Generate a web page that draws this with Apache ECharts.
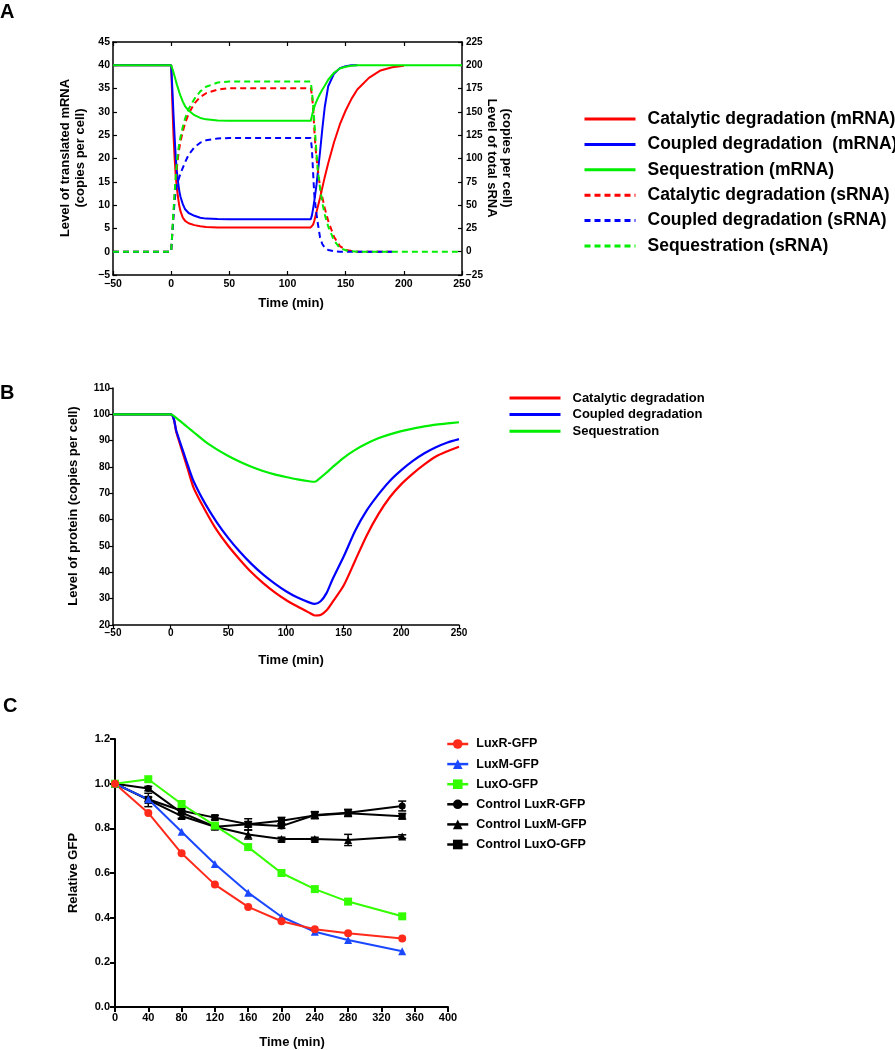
<!DOCTYPE html>
<html>
<head>
<meta charset="utf-8">
<script src="https://cdn.jsdelivr.net/npm/echarts@6/dist/echarts.min.js"></script>
<style>
html,body{margin:0;padding:0;background:#fff;}
#chart{width:895px;height:1050px;}
</style>
</head>
<body>
<div id="chart"></div>
<script>
// ---------- Panel A data ----------
const tA = [-50, 0, 1, 2, 3, 4, 5, 6, 7, 8, 10, 12, 15, 20, 25, 30, 40, 50, 120, 121, 122, 123, 124, 125, 126, 128, 130, 132, 135, 140, 145, 150, 155, 160, 170, 180, 190, 200, 250];
const catMRNA = [40, 40, 32, 25, 20, 16, 13.5, 11.5, 9.8, 8.7, 7.3, 6.6, 6.1, 5.7, 5.45, 5.3, 5.2, 5.2, 5.2, 5.4, 5.8, 6.6, 7.6, 8.6, 9.6, 11.6, 13.8, 16, 19, 23.5, 27.3, 30.3, 32.8, 34.8, 37.3, 38.9, 39.6, 39.9, null];
const coupMRNA = [40, 40, 35, 29.5, 24.5, 20, 17, 14.8, 13, 11.8, 10.2, 9.1, 8.3, 7.7, 7.3, 7.1, 7.0, 6.95, 6.95, 7.8, 9.2, 10.8, 12.6, 14.5, 16.8, 21.5, 26.5, 31, 35.5, 38.2, 39.4, 39.8, 40, 40, null, null, null, null, null];
const seqMRNA = [40, 40, 39.3, 38.5, 37.6, 36.7, 35.8, 35, 34.2, 33.5, 32.2, 31.2, 30.3, 29.3, 28.7, 28.4, 28.15, 28.1, 28.1, 29.2, 30.2, 31, 31.7, 32.3, 32.9, 33.9, 34.8, 35.6, 36.9, 38.4, 39.3, 39.7, 39.9, 40, 40, 40, 40, 40, 40];
const catSRNA = [0, 0, 20, 40, 60, 77, 91, 102, 111, 118, 129, 138, 148, 159, 166, 170, 174, 175.5, 175.5, 168, 155, 132, 113, 100, 89, 69, 58, 47, 33, 16, 6, 2, 0.7, 0, 0, 0, 0, null, null];
const coupSRNA = [0, 0, 20, 38, 55, 66, 72, 76, 80, 84, 90, 96, 104, 112, 117, 119.5, 121.5, 122, 122, 110, 85, 62, 50, 40, 31, 15, 8, 4.5, 1.8, 0.4, 0, 0, 0, 0, 0, 0, 0, null, null];
const seqSRNA = [0, 0, 22, 44, 64, 82, 97, 108, 116, 123, 134, 143, 153, 164, 172, 177, 181.5, 182.5, 182.5, 172, 158, 140, 123, 104, 88, 68, 52, 40, 27, 12, 4, 1.5, 0.5, 0, 0, 0, 0, 0, 0];
const legendA = ['Catalytic degradation (mRNA)', 'Coupled degradation  (mRNA)', 'Sequestration (mRNA)', 'Catalytic degradation (sRNA)', 'Coupled degradation (sRNA)', 'Sequestration (sRNA)'];

// ---------- Panel B data ----------
const tB = [-50, 0, 5, 10, 15, 20, 30, 40, 50, 60, 70, 80, 90, 100, 110, 120, 125, 130, 135, 140, 150, 160, 170, 180, 190, 200, 210, 220, 230, 240, 250];
const catProt = [100, 100, 93, 86, 79, 72, 63.5, 56, 50, 44.8, 40, 36, 32.5, 29.5, 27, 24.7, 23.6, 23.8, 25.5, 28.5, 35, 44.5, 54, 62, 68.5, 73.5, 77.5, 81, 84, 86, 87.7];
const coupProt = [100, 100, 93.5, 87, 80.5, 74.5, 66, 59, 53, 47.8, 43.2, 39.2, 35.8, 32.8, 30.4, 28.6, 28, 29, 32, 37, 46, 55.8, 63.5, 69.5, 74.7, 78.8, 82.3, 85.2, 87.5, 89.3, 90.6];
const seqProt = [100, 100, 98.6, 96.8, 95, 93.2, 89.6, 86.7, 84.2, 82, 80.1, 78.5, 77.2, 76.2, 75.3, 74.6, 74.4, 76, 77.8, 79.8, 83.5, 86.5, 88.9, 90.9, 92.4, 93.6, 94.6, 95.4, 96.1, 96.6, 97];
const legendB = ['Catalytic degradation', 'Coupled degradation', 'Sequestration'];

// ---------- Panel C data ----------
const tC = [0, 40, 80, 120, 160, 200, 240, 280, 345];
const luxR = [1.0, 0.869, 0.688, 0.548, 0.448, 0.384, 0.348, 0.33, 0.307];
const luxM = [1.0, 0.93, 0.785, 0.64, 0.512, 0.404, 0.337, 0.30, 0.25];
const luxO = [1.0, 1.02, 0.909, 0.812, 0.716, 0.60, 0.528, 0.472, 0.406];
const ctrlR = [1.0, 0.978, 0.87, 0.807, 0.818, 0.81, 0.86, 0.87, 0.90];
const ctrlM = [1.0, 0.927, 0.855, 0.807, 0.772, 0.752, 0.752, 0.748, 0.763];
const ctrlO = [1.0, 0.93, 0.879, 0.848, 0.818, 0.834, 0.858, 0.868, 0.854];
const errR = [0, 0.01, 0.01, 0.01, 0.012, 0.01, 0.015, 0.015, 0.022];
const errM = [0, 0.03, 0.01, 0.01, 0.02, 0.008, 0.008, 0.025, 0.008];
const errO = [0, 0.01, 0.01, 0.01, 0.025, 0.015, 0.015, 0.015, 0.012];
const legendC = ['LuxR-GFP', 'LuxM-GFP', 'LuxO-GFP', 'Control LuxR-GFP', 'Control LuxM-GFP', 'Control LuxO-GFP'];

const RED = '#ff0000', BLUE = '#0000ff', GREEN = '#00ee00';
const cRED = '#ff2a1a', cBLUE = '#1a48ff', cGREEN = '#33ff00';
const FONT = '"Liberation Sans", Arial, sans-serif';

function pairs(xs, ys) {
  const out = [];
  xs.forEach((x, i) => { if (ys[i] !== null && ys[i] !== undefined) out.push([x, ys[i]]); });
  return out;
}
const minus = v => String(v).replace('-', '\u2212');

function lineSeries(name, xs, ys, color, dashed, xi, yi, width) {
  return {
    name: name, type: 'line', xAxisIndex: xi, yAxisIndex: yi,
    data: pairs(xs, ys), showSymbol: false, symbol: 'none',
    lineStyle: { color: color, width: width || 2, type: dashed ? [6, 4] : 'solid' },
    itemStyle: { color: color }
  };
}
function markSeries(name, ys, color, symbol, size) {
  return {
    name: name, type: 'line', xAxisIndex: 3, yAxisIndex: 3,
    data: pairs(tC, ys), symbol: symbol, symbolSize: size, showSymbol: true,
    lineStyle: { color: color, width: 2 }, itemStyle: { color: color }
  };
}
function errSeries(ys, es) {
  return {
    type: 'custom', xAxisIndex: 3, yAxisIndex: 3, silent: true, z: 1,
    data: tC.map((x, i) => [x, ys[i] - es[i], ys[i] + es[i]]).filter((d, i) => es[i] > 0),
    renderItem: function (params, api) {
      const lo = api.coord([api.value(0), api.value(1)]);
      const hi = api.coord([api.value(0), api.value(2)]);
      const w = 4;
      const st = { stroke: '#000', lineWidth: 1.5 };
      return { type: 'group', children: [
        { type: 'line', shape: { x1: lo[0], y1: lo[1], x2: hi[0], y2: hi[1] }, style: st },
        { type: 'line', shape: { x1: lo[0] - w, y1: lo[1], x2: lo[0] + w, y2: lo[1] }, style: st },
        { type: 'line', shape: { x1: hi[0] - w, y1: hi[1], x2: hi[0] + w, y2: hi[1] }, style: st }
      ] };
    }
  };
}

const axisLine = w => ({ show: true, onZero: false, lineStyle: { color: '#000', width: w } });
const lbl = (size, extra) => Object.assign({ color: '#000', fontWeight: 'bold', fontSize: size, fontFamily: FONT }, extra || {});

const chart = echarts.init(document.getElementById('chart'), null, { renderer: 'canvas' });

const option = {
  animation: false,
  backgroundColor: '#fff',
  grid: [
    { left: 113, top: 42, width: 349, height: 233 },
    { left: 113, top: 388, width: 346, height: 237 },
    { left: 115, top: 739, width: 333, height: 268 }
  ],
  xAxis: [
    { gridIndex: 0, type: 'value', position: 'bottom', min: -50, max: 250, interval: 50,
      axisLine: axisLine(1.5), axisTick: { inside: true, length: 4, lineStyle: { color: '#000', width: 1.2 } },
      axisLabel: lbl(10.5, { margin: 4, formatter: minus }), splitLine: { show: false } },
    { gridIndex: 0, type: 'value', position: 'top', min: -50, max: 250, interval: 50,
      axisLine: axisLine(1.5), axisTick: { inside: true, length: 4, lineStyle: { color: '#000', width: 1.2 } },
      axisLabel: { show: false }, splitLine: { show: false } },
    { gridIndex: 1, type: 'value', position: 'bottom', min: -50, max: 250, interval: 50,
      axisLine: axisLine(1.5), axisTick: { inside: false, length: 4, lineStyle: { color: '#000', width: 1.2 } },
      axisLabel: lbl(10, { margin: 3, formatter: minus }), splitLine: { show: false } },
    { gridIndex: 2, type: 'value', position: 'bottom', min: 0, max: 400, interval: 40,
      axisLine: axisLine(2), axisTick: { inside: false, length: 5, lineStyle: { color: '#000', width: 2 } },
      axisLabel: lbl(11, { margin: 5 }), splitLine: { show: false } }
  ],
  yAxis: [
    { gridIndex: 0, type: 'value', position: 'left', min: -5, max: 45, interval: 5,
      axisLine: axisLine(1.5), axisTick: { inside: true, length: 4, lineStyle: { color: '#000', width: 1.2 } },
      axisLabel: lbl(10.5, { margin: 3, formatter: minus }), splitLine: { show: false } },
    { gridIndex: 0, type: 'value', position: 'right', min: -25, max: 225, interval: 25,
      axisLine: axisLine(1.5), axisTick: { inside: true, length: 4, lineStyle: { color: '#000', width: 1.2 } },
      axisLabel: lbl(10, { margin: 4, formatter: minus }), splitLine: { show: false } },
    { gridIndex: 1, type: 'value', position: 'left', min: 20, max: 110, interval: 10,
      axisLine: axisLine(1.5), axisTick: { inside: false, length: 4, lineStyle: { color: '#000', width: 1.2 } },
      axisLabel: lbl(10, { margin: 3 }), splitLine: { show: false } },
    { gridIndex: 2, type: 'value', position: 'left', min: 0, max: 1.2, interval: 0.2,
      axisLine: axisLine(2), axisTick: { inside: false, length: 5, lineStyle: { color: '#000', width: 2 } },
      axisLabel: lbl(11, { margin: 5, formatter: v => v.toFixed(1) }), splitLine: { show: false } }
  ],
  legend: [
    { data: legendA, orient: 'vertical', left: 578, top: 105, itemWidth: 51, itemHeight: 14, itemGap: 7.4,
      itemStyle: { opacity: 0 }, lineStyle: { width: 3 },
      textStyle: lbl(17.5, { lineHeight: 14, padding: [0, 0, 0, 7] }), selectedMode: false },
    { data: legendB, orient: 'vertical', left: 503, top: 386.5, itemWidth: 51, itemHeight: 12, itemGap: 3.6,
      itemStyle: { opacity: 0 }, lineStyle: { width: 3 },
      textStyle: lbl(13, { lineHeight: 12, padding: [0, 0, 0, 7] }), selectedMode: false },
    { data: legendC, orient: 'vertical', left: 441, top: 732.5, itemWidth: 21, itemHeight: 12, itemGap: 7.1,
      lineStyle: { width: 2.5 },
      textStyle: lbl(12.5, { lineHeight: 12, padding: [0, 0, 0, 3] }), selectedMode: false }
  ],
  series: [
    lineSeries(legendA[0], tA, catMRNA, RED, false, 0, 0),
    lineSeries(legendA[1], tA, coupMRNA, BLUE, false, 0, 0),
    lineSeries(legendA[3], tA, catSRNA, RED, true, 0, 1),
    lineSeries(legendA[4], tA, coupSRNA, BLUE, true, 0, 1),
    lineSeries(legendA[5], tA, seqSRNA, GREEN, true, 0, 1),
    lineSeries(legendA[2], tA, seqMRNA, GREEN, false, 0, 0),

    Object.assign(lineSeries(legendB[0], tB, catProt, RED, false, 2, 2, 2.2), { smooth: 0.25 }),
    Object.assign(lineSeries(legendB[1], tB, coupProt, BLUE, false, 2, 2, 2.2), { smooth: 0.25 }),
    Object.assign(lineSeries(legendB[2], tB, seqProt, GREEN, false, 2, 2, 2.2), { smooth: 0.25 }),

    errSeries(ctrlR, errR),
    errSeries(ctrlM, errM),
    errSeries(ctrlO, errO),
    markSeries(legendC[3], ctrlR, '#000', 'circle', 7),
    markSeries(legendC[4], ctrlM, '#000', 'triangle', 8),
    markSeries(legendC[5], ctrlO, '#000', 'rect', 7),
    markSeries(legendC[1], luxM, cBLUE, 'triangle', 8),
    markSeries(legendC[2], luxO, cGREEN, 'rect', 8),
    markSeries(legendC[0], luxR, cRED, 'circle', 8)
  ],
  graphic: [
    { type: 'text', x: 0, y: 2, style: { text: 'A', font: 'bold 20px ' + FONT, fill: '#000', align: 'left', verticalAlign: 'top' } },
    { type: 'text', x: 0, y: 383, style: { text: 'B', font: 'bold 20px ' + FONT, fill: '#000', align: 'left', verticalAlign: 'top' } },
    { type: 'text', x: 3, y: 696, style: { text: 'C', font: 'bold 20px ' + FONT, fill: '#000', align: 'left', verticalAlign: 'top' } },

    { type: 'text', x: 65, y: 158, rotation: Math.PI / 2, style: { text: 'Level of translated mRNA', font: 'bold 13px ' + FONT, fill: '#000', align: 'center', verticalAlign: 'middle' } },
    { type: 'text', x: 80, y: 158, rotation: Math.PI / 2, style: { text: '(copies per cell)', font: 'bold 13px ' + FONT, fill: '#000', align: 'center', verticalAlign: 'middle' } },
    { type: 'text', x: 492, y: 158, rotation: -Math.PI / 2, style: { text: 'Level of total sRNA', font: 'bold 13px ' + FONT, fill: '#000', align: 'center', verticalAlign: 'middle' } },
    { type: 'text', x: 507, y: 158, rotation: -Math.PI / 2, style: { text: '(copies per cell)', font: 'bold 13px ' + FONT, fill: '#000', align: 'center', verticalAlign: 'middle' } },
    { type: 'text', x: 291, y: 303, style: { text: 'Time (min)', font: 'bold 13px ' + FONT, fill: '#000', align: 'center', verticalAlign: 'middle' } },

    { type: 'text', x: 73, y: 506, rotation: Math.PI / 2, style: { text: 'Level of protein (copies per cell)', font: 'bold 13px ' + FONT, fill: '#000', align: 'center', verticalAlign: 'middle' } },
    { type: 'text', x: 291, y: 660, style: { text: 'Time (min)', font: 'bold 13px ' + FONT, fill: '#000', align: 'center', verticalAlign: 'middle' } },

    { type: 'text', x: 73, y: 873, rotation: Math.PI / 2, style: { text: 'Relative GFP', font: 'bold 13px ' + FONT, fill: '#000', align: 'center', verticalAlign: 'middle' } },
    { type: 'text', x: 292, y: 1042, style: { text: 'Time (min)', font: 'bold 13px ' + FONT, fill: '#000', align: 'center', verticalAlign: 'middle' } }
  ]
};
chart.setOption(option);
</script>
</body>
</html>
